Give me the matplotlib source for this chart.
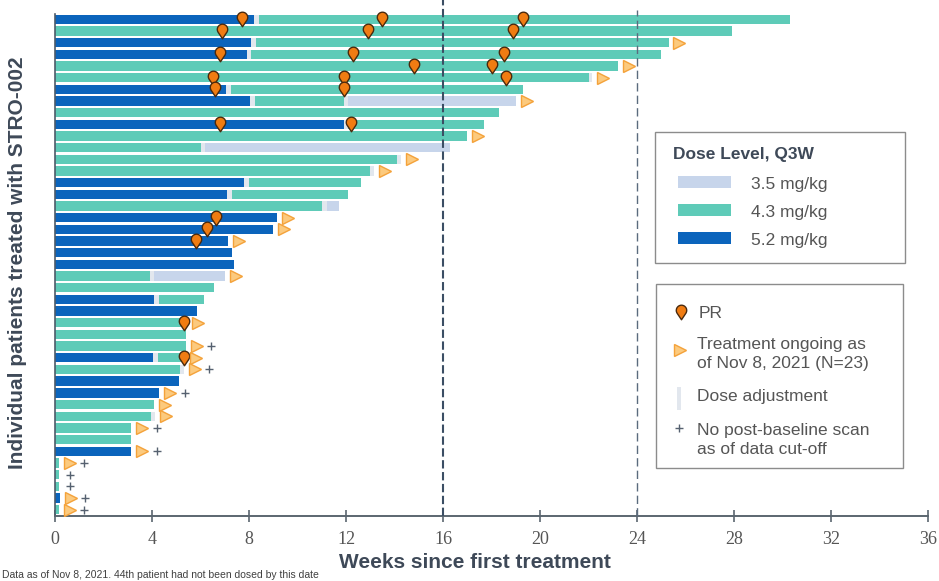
import numpy as np
import matplotlib
matplotlib.use('Agg')
import matplotlib.pyplot as plt
from matplotlib.path import Path
from matplotlib.patches import Rectangle

# one entry per dose period, listed in order for each patient (1 = top row)
seg_patient = [1, 1, 2, 3, 3, 4, 4, 5, 6, 7, 7, 8, 8, 8, 9, 10, 10, 11, 12, 12,
               13, 14, 15, 15, 16, 16, 17, 17, 18, 19, 20, 21, 22, 23, 23, 24,
               25, 25, 26, 27, 28, 29, 30, 30, 31, 32, 33, 34, 35, 36, 37, 38,
               39, 40, 41, 42, 43]
seg_dose = [5.2, 4.3, 4.3, 5.2, 4.3, 5.2, 4.3, 4.3, 4.3, 5.2, 4.3, 5.2, 4.3, 3.5,
            4.3, 5.2, 4.3, 4.3, 4.3, 3.5, 4.3, 4.3, 5.2, 4.3, 5.2, 4.3, 4.3, 3.5,
            5.2, 5.2, 5.2, 5.2, 5.2, 4.3, 3.5, 4.3, 5.2, 4.3, 5.2, 4.3, 4.3, 4.3,
            5.2, 4.3, 4.3, 5.2, 5.2, 4.3, 4.3, 4.3, 4.3, 5.2, 4.3, 4.3, 4.3, 5.2,
            4.3]
seg_end = [8.2, 30.3, 27.9, 8.1, 25.3, 7.9, 25.0, 23.2, 22.0, 7.05, 19.3, 8.05,
           11.9, 19.0, 18.3, 11.9, 17.7, 17.0, 6.0, 16.3, 14.1, 13.0, 7.8, 12.6,
           7.1, 12.1, 11.0, 11.7, 9.15, 9.0, 7.15, 7.3, 7.4, 3.9, 7.0, 6.55, 4.1,
           6.15, 5.85, 5.45, 5.4, 5.4, 4.05, 5.35, 5.15, 5.1, 4.3, 4.1, 3.95, 3.15,
           3.15, 3.15, 0.15, 0.15, 0.15, 0.2, 0.15]

# partial responses
pr_patient = [1, 1, 1, 2, 2, 2, 4, 4, 4, 5, 5, 6, 6, 6, 7, 7, 10, 10, 18, 19, 20, 27, 30]
pr_week = [7.7, 13.5, 19.3, 6.9, 12.9, 18.9, 6.8, 12.3, 18.5, 14.8, 18.0, 6.5, 11.9,
           18.6, 6.6, 11.9, 6.8, 12.2, 6.65, 6.25, 5.8, 5.3, 5.3]

ongoing_patients = [3, 5, 6, 8, 11, 13, 14, 18, 19, 20, 23, 27, 29, 30, 31, 33, 34,
                    35, 36, 38, 39, 42, 43]
no_scan_patients = [29, 31, 33, 36, 38, 39, 40, 41, 42, 43]
end_adjust_patients = [6, 13, 14, 31, 35]

dose_labels = ['3.5 mg/kg', '4.3 mg/kg', '5.2 mg/kg']
week_ticks = [0, 4, 8, 12, 16, 20, 24, 28, 32, 36]
ref_weeks = [16, 24]

DOSE_COLORS = {3.5: '#c7d5eb', 4.3: '#5ecbb8', 5.2: '#0b64bc'}
ADJ_COLOR = '#e2e7ee'
PR_FACE, PR_EDGE = '#f07c12', '#4a2a0e'
TRI_FACE, TRI_EDGE = '#fcca7e', '#f4a23a'
PLUS_COLOR = '#566170'
TEXT_DARK = '#3e4958'
GAP = 0.2


def pin_marker():
    """Map-pin shape for the PR marks (circle with a point at the bottom)."""
    arc = Path.arc(-34, 214)
    verts = arc.vertices + [0, 0.4]
    verts = np.vstack([verts, [[0, -1.4], [0, 0]]])
    codes = list(arc.codes) + [Path.LINETO, Path.CLOSEPOLY]
    return Path(verts, codes)


def draw_swimmers(ax):
    last_end = {}
    for p, dose, end in zip(seg_patient, seg_dose, seg_end):
        y = p - 1
        if p in last_end:
            start = last_end[p] + GAP
            # dose change -> light adjustment mark in the gap
            ax.barh(y, GAP, left=last_end[p], height=0.8, color=ADJ_COLOR, zorder=2)
        else:
            start = 0
        ax.barh(y, end - start, left=start, height=0.8, color=DOSE_COLORS[dose], zorder=2)
        last_end[p] = end

    for p in end_adjust_patients:
        ax.barh(p - 1, GAP * 0.8, left=last_end[p], height=0.8, color=ADJ_COLOR, zorder=2)
        last_end[p] += GAP * 0.8

    pin = pin_marker()
    ax.plot(pr_week, [p - 1 for p in pr_patient], ls='none', marker=pin, ms=10.5,
            mfc=PR_FACE, mec=PR_EDGE, mew=1.0, zorder=5)

    tri_x = [last_end[p] + 0.45 for p in ongoing_patients]
    ax.plot(tri_x, [p - 1 for p in ongoing_patients], ls='none', marker='>', ms=9,
            mfc=TRI_FACE, mec=TRI_EDGE, mew=1.0, zorder=5)

    plus_x = []
    for p in no_scan_patients:
        base = last_end[p] + 0.45
        plus_x.append(base + 0.6 if p in ongoing_patients else base)
    ax.plot(plus_x, [p - 1 for p in no_scan_patients], ls='none', marker='+', ms=6,
            mec=PLUS_COLOR, mew=1.0, zorder=5)


def draw_legends(fig):
    lg = fig.add_axes([0, 0, 1, 1], zorder=10)
    lg.set_xlim(0, 939)
    lg.set_ylim(581, 0)
    lg.axis('off')

    # dose level box
    lg.add_patch(Rectangle((655, 132), 250, 131, fc='white', ec='#8c8c8c', lw=1))
    lg.text(673, 155, 'Dose Level, Q3W', fontsize=12.5, fontweight='bold',
            color=TEXT_DARK, va='center')
    for i, (lab, dose) in enumerate(zip(dose_labels, [3.5, 4.3, 5.2])):
        yy = 182 + i * 28
        lg.add_patch(Rectangle((678, yy - 6), 53, 12, fc=DOSE_COLORS[dose], ec='none'))
        lg.text(751, yy + 3, lab, fontsize=12.5, color='#555555', va='center')

    # symbols box
    lg.add_patch(Rectangle((656, 284), 247, 184, fc='white', ec='#8c8c8c', lw=1))
    lg.plot([681], [312], marker=pin_marker(), ms=10.5, mfc=PR_FACE, mec=PR_EDGE, mew=1.0)
    lg.text(699, 314, 'PR', fontsize=12.5, color='#555555', va='center')
    lg.plot([680], [350], marker='>', ms=9, mfc=TRI_FACE, mec=TRI_EDGE, mew=1.0)
    lg.text(697, 354, 'Treatment ongoing as\nof Nov 8, 2021 (N=23)', fontsize=12.5,
            color='#555555', va='center', linespacing=1.4)
    lg.add_patch(Rectangle((677, 387), 4, 23, fc=ADJ_COLOR, ec='none'))
    lg.text(697, 396, 'Dose adjustment', fontsize=12.5, color='#555555', va='center')
    lg.plot([679], [428], marker='+', ms=6, mec=PLUS_COLOR, mew=1.0)
    lg.text(697, 440, 'No post-baseline scan\nas of data cut-off', fontsize=12.5,
            color='#555555', va='center', linespacing=1.4)


def main():
    fig = plt.figure(figsize=(9.39, 5.81), dpi=100)
    ax = fig.add_axes([55 / 939, 65 / 581, 873 / 939, 516 / 581])

    draw_swimmers(ax)

    # reference lines at week 16 and 24
    ax.axvline(ref_weeks[0], color='#3b4e64', lw=1.5, ls=(0, (4, 1.7)), zorder=4)
    ax.axvline(ref_weeks[1], ymax=0.98, color='#5b6b7e', lw=1.0, ls=(0, (6, 3)), zorder=4)

    ax.set_xlim(0, 36)
    ax.set_ylim(42.557, -1.671)
    ax.set_xticks(week_ticks)
    ax.set_xticklabels([str(t) for t in week_ticks], family='Liberation Serif',
                       fontsize=13, color='#555555')
    ax.set_yticks([])
    ax.tick_params(axis='x', direction='inout', length=8, width=1.2,
                   color='#5b6670', pad=7)
    for side in ['top', 'right']:
        ax.spines[side].set_visible(False)
    ax.spines['bottom'].set_color('#5b6670')
    ax.spines['bottom'].set_linewidth(1.4)
    ax.spines['left'].set_color('#4d5b6a')
    ax.spines['left'].set_linewidth(1.2)
    ax.spines['left'].set_bounds(42.557, -0.5)

    fig.text(475 / 939, 1 - 562 / 581, 'Weeks since first treatment', ha='center',
             va='center', fontsize=15, fontweight='bold', color=TEXT_DARK)
    fig.text(18 / 939, 1 - 263 / 581, 'Individual patients treated with STRO-002',
             rotation=90, ha='center', va='center', fontsize=15, fontweight='bold',
             color=TEXT_DARK)
    fig.text(0.002, 1 / 581,
             'Data as of Nov 8, 2021. 44th patient had not been dosed by this date',
             ha='left', va='bottom', fontsize=7.5, color='#404040')

    draw_legends(fig)

    fig.savefig('out.png', dpi=100)


if __name__ == "__main__":
    plt.rcParams['font.family'] = ['Liberation Sans', 'DejaVu Sans']
    main()
